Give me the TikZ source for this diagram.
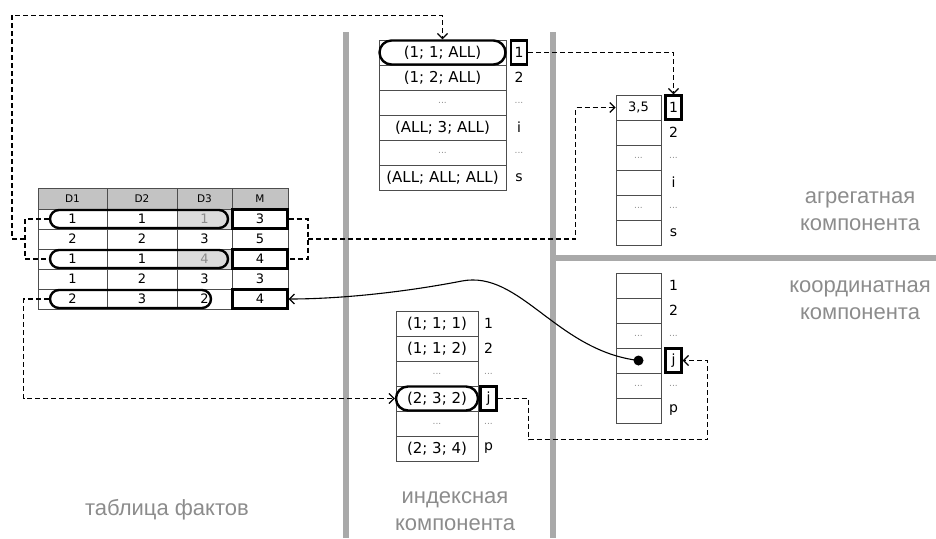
\documentclass[tikz,border=0pt]{standalone}
\usepackage{fontspec}
\setmainfont{DejaVu Sans}
\newfontfamily\captionfont{Liberation Sans}
\usepackage{tikz}
\usetikzlibrary{arrows.meta,calc}
\definecolor{rulegrey}{HTML}{A9A9A9}
\definecolor{headgrey}{HTML}{C3C3C3}
\definecolor{dimgrey}{HTML}{DCDCDC}
\definecolor{linegrey}{HTML}{4D4D4D}
\definecolor{softgrey}{HTML}{8C8C8C}
\newcommand{\skipdots}{{\color{softgrey}\fontsize{9}{9}\selectfont...}}
\tikzset{
  factcell/.style={
    rectangle, draw=linegrey, line width=0.8pt, inner sep=0pt,
    minimum height=20pt, font=\fontsize{13}{13}\selectfont
  },
  headcell/.style={factcell, fill=headgrey, minimum height=21pt, font=\fontsize{10.5}{10.5}\selectfont},
  dimcell/.style={factcell, fill=dimgrey, text=softgrey},
  idxcell/.style={
    rectangle, draw=linegrey, line width=0.8pt, inner sep=0pt,
    minimum height=25pt, minimum width=#1, font=\fontsize{15}{15}\selectfont
  },
  rowlabel/.style={inner sep=0pt, font=\fontsize{14}{14}\selectfont},
  pill/.style={draw, line width=2.4pt, rounded corners=9pt, inner sep=0pt, minimum height=#1},
  pill/.default=18pt,
  idxbox/.style={draw, line width=2.4pt, inner sep=0pt, minimum width=16pt, minimum height=24pt},
  link/.style={line width=1.2pt, dash pattern=on 5pt off 3pt},
  linkarrow/.style={link, -{Straight Barb[length=5pt,width=10pt]}},
  sepbar/.style={rulegrey, line width=6pt},
  caption/.style={font=\captionfont\fontsize{22}{27}\selectfont, text=softgrey, align=center}
}

\begin{document}
\begin{tikzpicture}[x=1pt,y=-1pt]
\useasboundingbox (0,0) rectangle (936,538);
\draw[sepbar] (346,32) -- (346,538);
\draw[sepbar] (553,32) -- (553,538);
\draw[sepbar] (553,258) -- (936,258);

\foreach \c/\x/\w/\t in {d1/72.5/69/D1, d2/142/70/D2, d3/204.5/55/D3, m/260/56/M}
  \node[headcell, minimum width=\w] (fh-\c) at (\x,198.5) {\t};
\foreach \r/\a/\b/\c/\m/\s in {1/1/1/1/3/dimcell, 2/2/2/3/5/factcell, 3/1/1/4/4/dimcell,
    4/1/2/3/3/factcell, 5/2/3/2/4/factcell} {
  \node[factcell, minimum width=69] (f\r-d1) at (72.5,199+20*\r) {\a};
  \node[factcell, minimum width=70] (f\r-d2) at (142,199+20*\r) {\b};
  \node[\s, minimum width=55] (f\r-d3) at (204.5,199+20*\r) {\c};
  \node[factcell, minimum width=56] (f\r-m) at (260,199+20*\r) {\m};
}

\foreach \r/\t/\l in {1/{(1; 1; ALL)}/1, 2/{(1; 2; ALL)}/2, 3/\skipdots/\skipdots,
    4/{(ALL; 3; ALL)}/i, 5/\skipdots/\skipdots, 6/{(ALL; ALL; ALL)}/s} {
  \node[idxcell=127pt] (t\r) at (442.5,27.5+25*\r) {\t};
  \node[rowlabel] (tl\r) at (519,27.5+25*\r) {\l};
}
\foreach \r/\t/\l in {1/{3,5}/1, 2/{}/2, 3/\skipdots/\skipdots,
    4/{}/i, 5/\skipdots/\skipdots, 6/{}/s} {
  \node[idxcell=45pt, font=\fontsize{13}{13}\selectfont] (a\r) at (638.5,82.5+25*\r) {\t};
  \node[rowlabel] (al\r) at (673.5,82.5+25*\r) {\l};
}
\foreach \r/\t/\l in {1/{(1; 1; 1)}/1, 2/{(1; 1; 2)}/2, 3/\skipdots/\skipdots,
    4/{(2; 3; 2)}/j, 5/\skipdots/\skipdots, 6/{(2; 3; 4)}/p} {
  \node[idxcell=82pt] (b\r) at (437,298.5+25*\r) {\t};
  \node[rowlabel] (bl\r) at (488.5,298.5+25*\r) {\l};
}
\foreach \r/\t/\l in {1/{}/1, 2/{}/2, 3/\skipdots/\skipdots,
    4/{}/j, 5/\skipdots/\skipdots, 6/{}/p} {
  \node[idxcell=45pt] (c\r) at (638.5,260.5+25*\r) {\t};
  \node[rowlabel] (cl\r) at (673.5,260.5+25*\r) {\l};
}

\node[pill=24pt, rounded corners=12pt, minimum width=126] (tp) at (t1) {};
\node[pill=24pt, rounded corners=12pt, minimum width=82] (bp) at (b4) {};
\node[pill, minimum width=178] (p1) at (139,219) {};
\node[pill, minimum width=178] (p3) at (139,259) {};
\node[pill, minimum width=161] (p5) at (130.5,299) {};
\foreach \r in {1,3,5}
  \node[idxbox, minimum width=55, minimum height=19] (mk\r) at (f\r-m) {};
\node[idxbox] (tk) at (tl1) {};
\node[idxbox] (ak) at (al1) {};
\node[idxbox] (bk) at (bl4) {};
\node[idxbox] (ck) at (cl4) {};
\node[circle, fill, inner sep=0pt, minimum size=10pt] (dot) at (c4) {};

\coordinate (lb) at (25,239);
\coordinate (rb) at (308,239);
\coordinate (bend) at (462,281);
\draw[link] (p1.west) -| (lb) |- (p3.west);
\draw[linkarrow] (lb) -- ++(-13,0) |- ($(tp.north)+(0,-24)$) -- (tp.north);
\draw[link] (mk1.east) -| (rb) |- (mk3.east);
\draw[linkarrow] (rb) -| ($(a1.west)+(-40,0)$) -- (a1.west);
\draw[linkarrow] (tk.east) -| (ak.north);
\draw[linkarrow] (p5.west) -- ++(-25,0) |- (bp.west);
\draw[linkarrow] (bk.east) -- ++(31,0) -- ++(0,41) -| ($(ck.east)+(25,0)$) -- (ck.east);
\draw[-{Straight Barb[length=5pt,width=10pt]}, line width=1.1pt] (dot.center)
  .. controls +(-82,-10) and +(58,-11) .. (bend)
  .. controls +(-62,12) and +(48,0) .. (mk5.east);

\node[caption] (factcap) at (167,510) {таблица фактов};
\node[caption] (idxcap) at (455,511) {индексная\\компонента};
\node[caption] (aggcap) at (860,211) {агрегатная\\компонента};
\node[caption] (crdcap) at (860,300) {координатная\\компонента};
\end{tikzpicture}
\end{document}
